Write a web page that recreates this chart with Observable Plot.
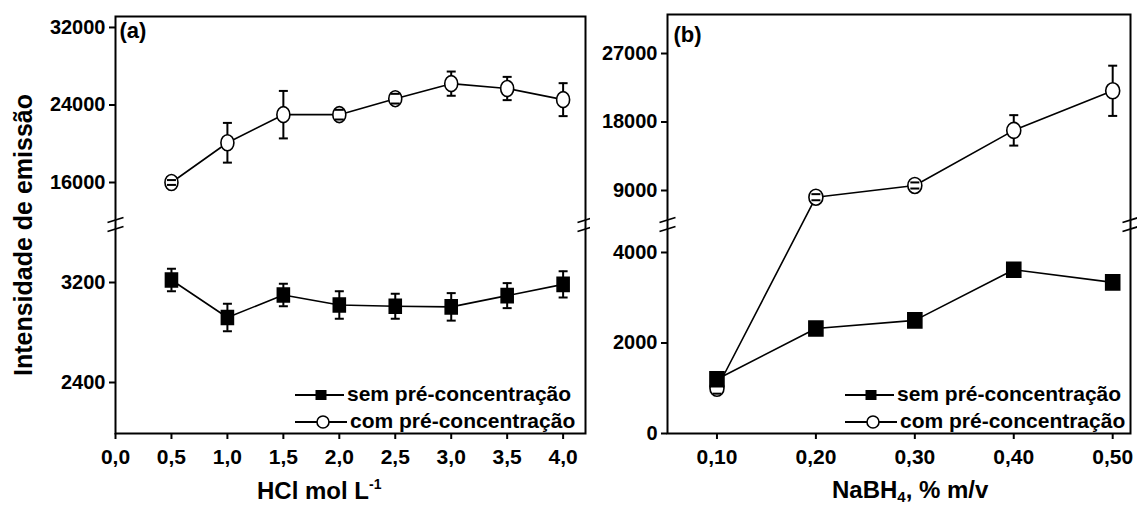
<!DOCTYPE html>
<html>
<head>
<meta charset="utf-8">
<script src="https://cdn.jsdelivr.net/npm/d3@7"></script>
<script src="https://cdn.jsdelivr.net/npm/@observablehq/plot@0.6"></script>
<style>
  html, body { margin: 0; padding: 0; background: #fff; }
  #fig { position: relative; width: 1137px; height: 505px; overflow: hidden; }
  #fig svg { position: absolute; top: 0; overflow: visible; }
</style>
</head>
<body>
<div id="fig"></div>
<script>
// ---- Panel (a): emission intensity vs HCl concentration ----
const hcl        = [0.5, 1.0, 1.5, 2.0, 2.5, 3.0, 3.5, 4.0];
const hclSem     = [3220, 2920, 3100, 3020, 3010, 3005, 3095, 3185];
const hclSemErr  = [90, 110, 90, 110, 100, 110, 100, 105];
const hclCom     = [16000, 20100, 23000, 23000, 24650, 26200, 25700, 24550];
const hclComErr  = [250, 2050, 2450, 500, 500, 1250, 1200, 1700];
const hclTicks   = [0, 0.5, 1, 1.5, 2, 2.5, 3, 3.5, 4];
const yTicksA    = [2400, 3200, 16000, 24000, 32000];

// ---- Panel (b): emission intensity vs NaBH4 concentration ----
const nabh4      = [0.10, 0.20, 0.30, 0.40, 0.50];
const nabSem     = [1200, 2320, 2500, 3620, 3340];
const nabCom     = [1000, 8120, 9660, 16900, 22100];
const nabComErr  = [120, 400, 400, 2000, 3300];
const nabTicks   = [0.10, 0.20, 0.30, 0.40, 0.50];
const yTicksB    = [0, 2000, 4000, 9000, 18000, 27000];

const seriesNames = ["sem pré-concentração", "com pré-concentração"];

const FONT = '"Liberation Sans", Arial, Helvetica, sans-serif';

// Broken value axes: each maps intensity onto a continuous "axis length"
// coordinate, with a short compressed stretch where the axis is cut.
const breakA = d3.scaleLinear().domain([1992, 3632, 12078, 33131]).range([0, 205, 213, 417]);
const breakB = d3.scaleLinear().domain([0, 4530, 5058, 32126]).range([0, 205, 213, 419]);

// Marker shapes (path-drawing symbols for Plot.dot)
const rectSym = (w, h) => ({ draw(c) { c.rect(-w / 2, -h / 2, w, h); } });
const ellipseSym = (rx, ry) => ({
  draw(c) {
    const k = 0.5523, ox = rx * k, oy = ry * k;
    c.moveTo(-rx, 0);
    c.bezierCurveTo(-rx, -oy, -ox, -ry, 0, -ry);
    c.bezierCurveTo(ox, -ry, rx, -oy, rx, 0);
    c.bezierCurveTo(rx, oy, ox, ry, 0, ry);
    c.bezierCurveTo(-ox, ry, -rx, oy, -rx, 0);
    c.closePath();
  }
});
const capSym = (w) => ({ draw(c) { c.moveTo(-w / 2, 0); c.lineTo(w / 2, 0); } });
// axis-break "//" marks
const slashSym = { draw(c) { c.moveTo(-8, -2); c.lineTo(8, -7); c.moveTo(-8, 7); c.lineTo(8, 2); } };

function seriesMarks(rows, key, errKey, ys, symbol, fill) {
  const marks = [];
  if (errKey) {
    marks.push(Plot.ruleX(rows, { x: "x", y1: d => ys(d[key] - d[errKey]), y2: d => ys(d[key] + d[errKey]), stroke: "black", strokeWidth: 2 }));
  }
  marks.push(Plot.line(rows, { x: "x", y: d => ys(d[key]), stroke: "black", strokeWidth: 1.6 }));
  marks.push(Plot.dot(rows, { x: "x", y: d => ys(d[key]), symbol, fill, stroke: "black", strokeWidth: 1.6 }));
  if (errKey) {
    marks.push(Plot.dot(rows, { x: "x", y: d => ys(d[key] + d[errKey]), symbol: capSym(9), fill: "none", stroke: "black", strokeWidth: 2 }));
    marks.push(Plot.dot(rows, { x: "x", y: d => ys(d[key] - d[errKey]), symbol: capSym(9), fill: "none", stroke: "black", strokeWidth: 2 }));
  }
  return marks;
}

function addLegend(svg, x0) {
  const g = d3.select(svg).append("g")
    .attr("font-family", FONT).attr("font-weight", "bold").attr("font-size", 21)
    .attr("fill", "black").attr("text-anchor", "start");
  const rows = [
    { label: seriesNames[0], y: 395, shape: "sq", tx: x0 + 52 },
    { label: seriesNames[1], y: 422, shape: "ci", tx: x0 + 55 }
  ];
  rows.forEach(r => {
    const lineEnd = r.shape === "sq" ? x0 + 49 : x0 + 52;
    g.append("line").attr("x1", x0).attr("x2", lineEnd).attr("y1", r.y).attr("y2", r.y)
      .attr("stroke", "black").attr("stroke-width", 1.8);
    const mx = x0 + 26;
    if (r.shape === "sq") {
      g.append("rect").attr("x", mx - 5.5).attr("y", r.y - 5).attr("width", 11).attr("height", 10).attr("fill", "black");
    } else {
      g.append("ellipse").attr("cx", mx + 2).attr("cy", r.y).attr("rx", 6).attr("ry", 6)
        .attr("fill", "white").attr("stroke", "black").attr("stroke-width", 1.6);
    }
    g.append("text").attr("x", r.tx).attr("y", r.y + 6).text(r.label);
  });
}

const baseStyle = { fontFamily: FONT, fontWeight: "bold", color: "black", background: "white", overflow: "visible" };

// ---------- Panel (a) ----------
const rowsA = hcl.map((x, i) => ({ x, sem: hclSem[i], semErr: hclSemErr[i], com: hclCom[i], comErr: hclComErr[i] }));
const gapA = breakA((3632 + 12078) / 2);
const xDomA = [0, 4.2];

const plotA = Plot.plot({
  width: 590, height: 505,
  marginLeft: 115, marginRight: 5, marginTop: 16, marginBottom: 72,
  style: baseStyle,
  x: { domain: xDomA },
  y: { domain: [0, 417] },
  marks: [
    Plot.frame({ stroke: "black", strokeWidth: 2 }),
    Plot.axisX(hclTicks, { tickFormat: d => d.toFixed(1).replace(".", ","), fontSize: 21, tickSize: 6, tickPadding: 10, strokeWidth: 2, label: null }),
    Plot.axisY(yTicksA.map(breakA), { tickFormat: d => String(Math.round(breakA.invert(d))), fontSize: 20, tickSize: 6, tickPadding: 4, strokeWidth: 2, label: null }),
    Plot.dot([xDomA[0], xDomA[1]], { x: d => d, y: () => gapA, symbol: slashSym, fill: "none", stroke: "black", strokeWidth: 1.8 }),
    ...seriesMarks(rowsA, "com", "comErr", breakA, ellipseSym(6.5, 8), "white"),
    ...seriesMarks(rowsA, "sem", "semErr", breakA, rectSym(12, 14), "black"),
    Plot.text(["(a)"], { frameAnchor: "top-left", dx: 4, dy: 6, lineAnchor: "top", textAnchor: "start", fontSize: 22 })
  ]
});

// ---------- Panel (b) ----------
const rowsB = nabh4.map((x, i) => ({ x, sem: nabSem[i], com: nabCom[i], comErr: nabComErr[i] }));
const gapB = breakB((4530 + 5058) / 2);
const xDomB = [0.05, 0.518];

const plotB = Plot.plot({
  width: 547, height: 505,
  marginLeft: 77, marginRight: 7, marginTop: 14, marginBottom: 72,
  style: baseStyle,
  x: { domain: xDomB },
  y: { domain: [0, 419] },
  marks: [
    Plot.frame({ stroke: "black", strokeWidth: 2 }),
    Plot.axisX(nabTicks, { tickFormat: d => d.toFixed(2).replace(".", ","), fontSize: 21, tickSize: 6, tickPadding: 10, strokeWidth: 2, label: null }),
    Plot.axisY(yTicksB.map(breakB), { tickFormat: d => String(Math.round(breakB.invert(d))), fontSize: 20, tickSize: 6, tickPadding: 4, strokeWidth: 2, label: null }),
    Plot.dot([xDomB[0], xDomB[1]], { x: d => d, y: () => gapB, symbol: slashSym, fill: "none", stroke: "black", strokeWidth: 1.8 }),
    ...seriesMarks(rowsB, "com", "comErr", breakB, ellipseSym(7, 8), "white"),
    ...seriesMarks(rowsB, "sem", null, breakB, rectSym(14, 15), "black"),
    Plot.text(["(b)"], { frameAnchor: "top-left", dx: 6, dy: 12, lineAnchor: "top", textAnchor: "start", fontSize: 22 })
  ]
});

const fig = document.getElementById("fig");
plotA.style.left = "0px";
plotB.style.left = "590px";
fig.appendChild(plotA);
fig.appendChild(plotB);

addLegend(plotA, 295);
addLegend(plotB, 255);

// Axis titles
const ga = d3.select(plotA).append("g").attr("font-family", FONT).attr("font-weight", "bold")
  .attr("fill", "black").attr("text-anchor", "start");
ga.append("text").attr("transform", "translate(32,235) rotate(-90)").attr("text-anchor", "middle")
  .attr("font-size", 25).text("Intensidade de emissão");
const ta = ga.append("text").attr("x", 257).attr("y", 499).attr("font-size", 24);
ta.append("tspan").text("HCl mol L");
ta.append("tspan").attr("font-size", 14).attr("dy", -10).text("-1");

const gb = d3.select(plotB).append("g").attr("font-family", FONT).attr("font-weight", "bold")
  .attr("fill", "black").attr("text-anchor", "start");
const tb = gb.append("text").attr("x", 242).attr("y", 498).attr("font-size", 24);
tb.append("tspan").text("NaBH");
tb.append("tspan").attr("font-size", 15).attr("dy", 4).text("4");
tb.append("tspan").attr("dy", -4).text(", % m/v");
</script>
</body>
</html>
